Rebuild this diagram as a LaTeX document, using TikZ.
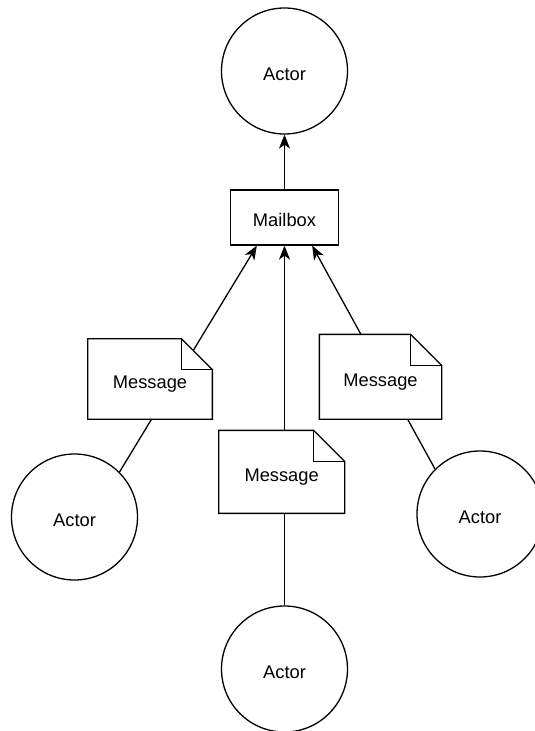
\documentclass[tikz,border=0pt]{standalone}
\usepackage{fontspec}
\setmainfont{Liberation Sans}
\usetikzlibrary{arrows.meta}
\pgfdeclarelayer{edges}
\pgfdeclarelayer{notes}
\pgfsetlayers{edges,notes,main}
\begin{document}
\begin{tikzpicture}[x=1pt,y=-1pt,line width=1.3pt,
  lw/.style={line width=1.3pt},
  lbl/.style={font=\fontsize{18.3}{22}\selectfont,text height=18.5pt,text depth=0pt},
  actor/.style={lbl,lw,circle,draw,minimum size=126pt,inner sep=0pt},
  mbox/.style={lbl,lw,rectangle,draw,minimum width=108pt,minimum height=55pt,inner sep=0pt},
  msg/.style={lbl,rectangle,inner sep=0pt},
  conn/.style={lw,-{Stealth[length=14pt,width=11pt,inset=4pt]}},
  note/.style={lw,fill=white,draw,line join=miter},
  fold/.style={lw,draw,line join=miter}]
\useasboundingbox (0,0) rectangle (535,731);
% nodes
\node[actor] (top) at (284.5,71) {Actor};
\node[mbox] (mb) at (284.5,217.5) {Mailbox};
\node[actor] (al) at (74.5,517) {Actor};
\node[actor] (ab) at (284.5,669) {Actor};
\node[actor] (ar) at (480,514) {Actor};
\node[msg,minimum width=123.4pt,minimum height=79.2pt] (ml) at (150,378.9) {Message};
\node[msg,minimum width=121pt,minimum height=83.5pt] (mr) at (380.5,376.75) {Message};
\node[msg,minimum width=124.7pt,minimum height=81.7pt] (mm) at (281.65,471.85) {Message};
% connectors
\begin{pgfonlayer}{edges}
\draw[conn] (mb.north) -- (top.south);
\draw[conn] (al.45) -- ([xshift=27pt]mb.south west);
\draw[conn] (ab.north) -- (mb.south);
\draw[conn] (ar.135) -- ([xshift=-27pt]mb.south east);
\end{pgfonlayer}
% note outlines
\begin{pgfonlayer}{notes}
\foreach \m in {ml,mr,mm}{
  \path[note] (\m.north west) -- ([xshift=-31pt]\m.north east)
    -- ([yshift=-31pt]\m.north east) -- (\m.south east) -- (\m.south west) -- cycle;
  \path[fold] ([xshift=-31pt]\m.north east) -- ([xshift=-31pt,yshift=-31pt]\m.north east)
    -- ([yshift=-31pt]\m.north east);
}
\end{pgfonlayer}
\end{tikzpicture}
\end{document}
